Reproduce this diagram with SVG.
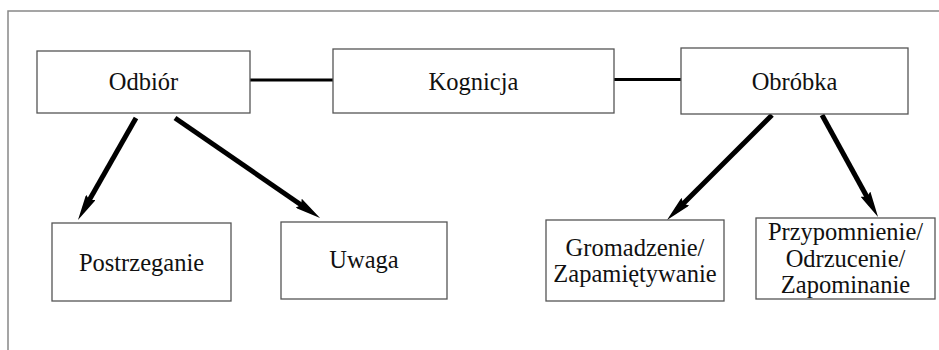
<svg xmlns="http://www.w3.org/2000/svg" width="939" height="350" viewBox="0 0 939 350">
<style>
.box{fill:#fff;stroke:#555;stroke-width:1.3}
.t{font-family:"Liberation Serif","Times New Roman",serif;font-size:24.5px;fill:#111;text-anchor:middle}
.ln{stroke:#000;stroke-width:3}
.ar{stroke:#000;stroke-width:5;marker-end:url(#ah)}
</style>
<defs>
<marker id="ah" markerUnits="userSpaceOnUse" viewBox="0 0 26 11" refX="12" refY="5.5" markerWidth="26" markerHeight="11" orient="auto">
<path d="M0,0 L26,5.5 L0,11 L3,5.5 Z" fill="#000"/>
</marker>
</defs>
<rect width="939" height="350" fill="#fff"/>
<path d="M8,350 V11 H939" fill="none" stroke="#888" stroke-width="1.5"/>
<g id="connectors">
<line class="ln" x1="250" y1="80" x2="333" y2="80"/>
<line class="ln" x1="614" y1="79.5" x2="681" y2="79.5"/>
<line class="ar" x1="136" y1="118" x2="84.9" y2="207.8"/>
<line class="ar" x1="175" y1="118" x2="308.5" y2="210"/>
<line class="ar" x1="772" y1="115" x2="676.9" y2="210.1"/>
<line class="ar" x1="822" y1="115" x2="871.3" y2="204.7"/>
</g>
<g id="odbior"><rect class="box" x="37" y="51" width="213" height="62"/><text class="t" x="143.5" y="90">Odbiór</text></g>
<g id="kognicja"><rect class="box" x="333" y="49" width="281" height="64"/><text class="t" x="473.5" y="90">Kognicja</text></g>
<g id="obrobka"><rect class="box" x="681" y="48" width="227" height="66"/><text class="t" x="794.5" y="89.5">Obróbka</text></g>
<g id="postrzeganie"><rect class="box" x="52" y="223" width="179" height="78"/><text class="t" x="141.5" y="270.5">Postrzeganie</text></g>
<g id="uwaga"><rect class="box" x="281" y="222" width="166" height="77"/><text class="t" x="364" y="268">Uwaga</text></g>
<g id="gromadzenie"><rect class="box" x="546" y="220" width="178" height="81"/><text class="t" x="635" y="256">Gromadzenie/</text><text class="t" x="635" y="282">Zapamiętywanie</text></g>
<g id="przypomnienie"><rect class="box" x="756" y="218" width="179" height="81"/><text class="t" x="845.5" y="240">Przypomnienie/</text><text class="t" x="845.5" y="266.5">Odrzucenie/</text><text class="t" x="845.5" y="293">Zapominanie</text></g>
</svg>
